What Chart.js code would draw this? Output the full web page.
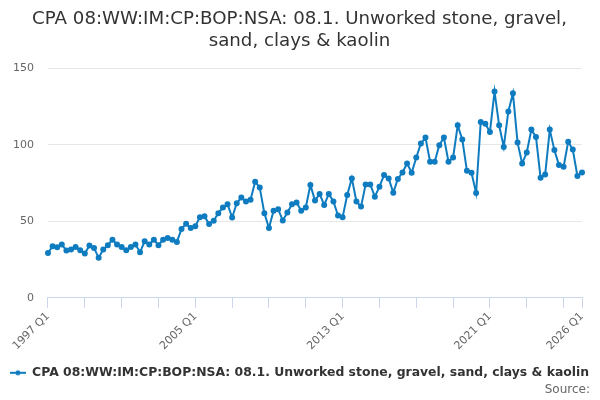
<!DOCTYPE html>
<html>
<head>
<meta charset="utf-8">
<script src="https://cdn.jsdelivr.net/npm/chart.js@4/dist/chart.umd.min.js"></script>
<style>
html,body{margin:0;padding:0;background:#fff;}
#wrap{width:600px;height:400px;}
</style>
</head>
<body>
<div id="wrap"><canvas id="c" width="600" height="400"></canvas></div>
<script>
const titleLines = ["CPA 08:WW:IM:CP:BOP:NSA: 08.1. Unworked stone, gravel,", "sand, clays & kaolin"];
const seriesName = "CPA 08:WW:IM:CP:BOP:NSA: 08.1. Unworked stone, gravel, sand, clays & kaolin";
const sourceText = "Source:";
const firstYear = 1997;
const lastYear = 2026;
const labelledTicks = ["1997 Q1", "2005 Q1", "2013 Q1", "2021 Q1", "2026 Q1"];
const yTicks = [0, 50, 100, 150];

const categories = [];
for (let y = firstYear; y <= lastYear; y++) {
  for (let q = 1; q <= 4; q++) {
    if (y === lastYear && q > 1) break;
    categories.push(y + " Q" + q);
  }
}

const values = [
  29.4, 33.8, 33.1, 34.9, 31.0, 31.6, 33.3, 31.2, 29.0, 34.2, 32.7, 26.2,
  31.6, 34.4, 38.1, 34.9, 33.3, 31.2, 33.3, 34.9, 29.9, 37.0, 34.9, 38.1,
  34.5, 38.1, 39.2, 38.1, 36.6, 45.0, 48.5, 45.7, 46.8, 52.8, 53.3, 48.3,
  50.5, 55.4, 59.1, 61.2, 52.6, 61.9, 65.6, 63.0, 64.1, 76.0, 72.1, 55.4,
  45.7, 57.0, 58.0, 50.6, 55.8, 61.2, 62.3, 57.0, 59.1, 73.8, 63.6, 68.0,
  60.8, 68.0, 63.0, 53.9, 52.8, 67.3, 78.1, 63.0, 59.7, 74.2, 74.2, 66.2,
  72.7, 80.3, 78.1, 68.8, 77.7, 82.0, 87.9, 81.8, 91.8, 100.9, 104.8, 89.0,
  89.0, 99.8, 104.8, 89.0, 91.8, 112.8, 103.5, 83.1, 81.8, 68.5, 114.9, 113.8,
  108.4, 134.9, 112.8, 98.7, 121.9, 133.8, 101.5, 87.9, 95.0, 110.0, 105.2, 78.6,
  80.7, 110.0, 96.6, 86.8, 85.7, 102.0, 97.0, 79.7, 82.0
];

const lineColor = '#0f7cc0';
const axisColor = '#ccd6eb';

// legend symbol: short line with a dot
const sym = document.createElement('canvas');
sym.width = 16; sym.height = 8;
(function(){
  const g = sym.getContext('2d');
  g.strokeStyle = lineColor; g.lineWidth = 2;
  g.beginPath(); g.moveTo(0, 4); g.lineTo(16, 4); g.stroke();
  g.fillStyle = lineColor;
  g.beginPath(); g.arc(8, 4, 2.5, 0, Math.PI * 2); g.fill();
})();

const lastIdx = categories.length - 1;
function isMarkTick(i){ return i % 8 === 0 || i === lastIdx; }

const sourcePlugin = {
  id: 'sourceNote',
  afterDraw(chart) {
    const ctx = chart.ctx;
    ctx.save();
    ctx.font = '12px "DejaVu Sans"';
    ctx.fillStyle = '#666666';
    ctx.textAlign = 'right';
    ctx.textBaseline = 'middle';
    ctx.fillText(sourceText, 590, 390);
    ctx.restore();
  }
};

new Chart(document.getElementById('c'), {
  type: 'line',
  data: {
    labels: categories,
    datasets: [{
      label: seriesName,
      data: values,
      borderColor: lineColor,
      backgroundColor: lineColor,
      borderWidth: 2,
      pointRadius: 2,
      pointHoverRadius: 3,
      tension: 0,
      fill: false
    }]
  },
  plugins: [sourcePlugin],
  options: {
    responsive: false,
    animation: false,
    devicePixelRatio: 1,
    layout: { padding: { left: -1, right: 0, top: 0, bottom: 11 } },
    plugins: {
      title: {
        display: true,
        text: titleLines,
        color: '#333333',
        font: { family: 'DejaVu Sans', size: 18.2, weight: 'normal', lineHeight: 1.22 },
        padding: { top: 8, bottom: 16 }
      },
      legend: {
        position: 'bottom',
        labels: {
          usePointStyle: true,
          pointStyle: sym,
          pointStyleWidth: 16,
          color: '#333333',
          font: { family: 'DejaVu Sans', size: 12.4, weight: 'bold' },
          padding: 8,
          boxHeight: 8
        }
      },
      tooltip: { enabled: false }
    },
    scales: {
      x: {
        type: 'category',
        offset: false,
        afterFit: (scale) => { scale.height += 4; },
        grid: {
          drawOnChartArea: false,
          drawTicks: true,
          tickLength: 10,
          color: (ctx) => isMarkTick(ctx.index) ? axisColor : 'rgba(0,0,0,0)',
          tickColor: (ctx) => isMarkTick(ctx.index) ? axisColor : 'rgba(0,0,0,0)'
        },
        border: { display: true, color: axisColor, width: 1 },
        ticks: {
          autoSkip: false,
          minRotation: 45,
          maxRotation: 45,
          color: '#666666',
          font: { family: 'DejaVu Sans', size: 11 },
          padding: 2,
          callback: function(value, index) {
            const lab = this.getLabelForValue(value);
            return labelledTicks.includes(lab) ? lab : '';
          }
        }
      },
      y: {
        min: 0,
        max: 150,
        afterBuildTicks: (axis) => { axis.ticks = yTicks.map(v => ({ value: v })); },
        grid: { color: '#e6e6e6', drawTicks: false, lineWidth: 1 },
        border: { display: false },
        ticks: {
          color: '#666666',
          font: { family: 'DejaVu Sans', size: 11 },
          padding: 14
        }
      },
      yRightSpace: {
        type: 'linear',
        position: 'right',
        display: true,
        grid: { display: false, drawOnChartArea: false, drawTicks: false },
        border: { display: false },
        ticks: { display: false },
        afterFit: (scale) => { scale.width = 18; }
      }
    }
  }
});
</script>
</body>
</html>
